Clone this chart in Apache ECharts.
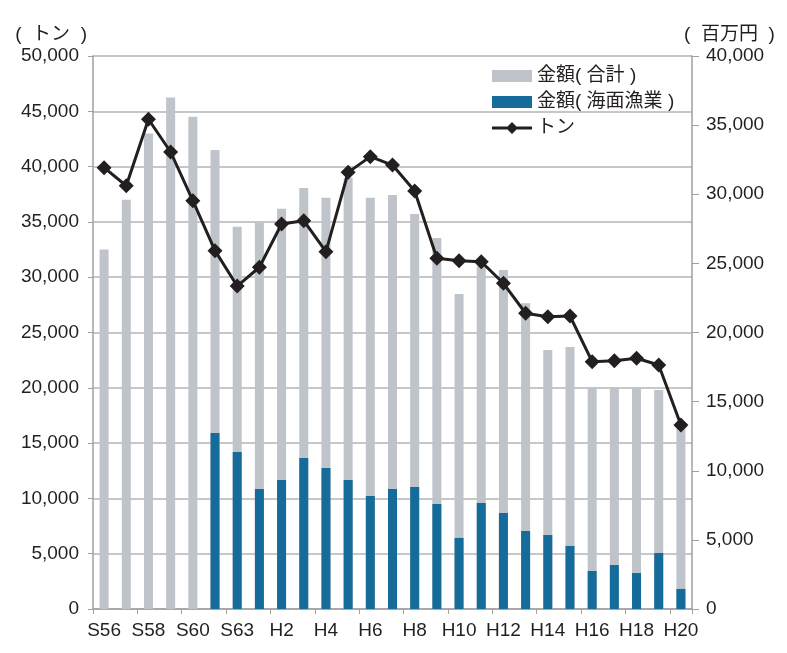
<!DOCTYPE html>
<html>
<head>
<meta charset="utf-8">
<script src="https://cdn.jsdelivr.net/npm/echarts@6/dist/echarts.min.js"></script>
<style>
  html, body { margin: 0; padding: 0; background: #fff; }
  #chart { width: 787px; height: 653px; }
</style>
</head>
<body>
<div id="chart"></div>
<script>
// 年次（S61/S62 のどちらかは欠けている）
const years = ['S56', 'S57', 'S58', 'S59', 'S60', 'S62', 'S63',
  'H1', 'H2', 'H3', 'H4', 'H5', 'H6', 'H7', 'H8', 'H9', 'H10',
  'H11', 'H12', 'H13', 'H14', 'H15', 'H16', 'H17', 'H18', 'H19', 'H20'];

// 金額（合計）百万円
const amountTotal = [26000, 29600, 34400, 37000, 35600, 33200, 27650,
  27950, 28950, 30450, 29750, 31200, 29750, 29950, 28570, 26830, 22780,
  24800, 24520, 22110, 18730, 18950, 16030, 16030, 16030, 15840, 13200];

// 金額（海面漁業）百万円 — S61以前はデータなし
const amountSea = [null, null, null, null, null, 12730, 11360,
  8680, 9330, 10920, 10200, 9330, 8170, 8680, 8830, 7600, 5140,
  7670, 6940, 5640, 5350, 4560, 2750, 3180, 2600, 4050, 1450];

// 数量 トン
const tons = [39900, 38270, 44280, 41320, 36920, 32400, 29200,
  30900, 34810, 35110, 32310, 39480, 40900, 40140, 37790, 31710, 31490,
  31400, 29450, 26740, 26430, 26490, 22360, 22450, 22670, 22060, 16640];

const txt = '#231f20';
const font = '"Liberation Sans", "Noto Sans CJK JP", sans-serif';

// 凡例用：線＋ひし形
const lineDiamondIcon = 'path://M0,4.5 L15.5,4.5 L20,0 L24.5,4.5 L40,4.5 L40,7.5 L24.5,7.5 L20,12 L15.5,7.5 L0,7.5 Z';

let chart = echarts.init(document.getElementById('chart'));

let option = {
    animation: false,
    textStyle: { fontFamily: font, color: txt },
    grid: { left: 93, right: 95, top: 56, bottom: 44 },
    legend: {
        orient: 'vertical',
        left: 487,
        top: 61,
        itemWidth: 40,
        itemHeight: 12,
        itemGap: 6,
        textStyle: { fontSize: 19, color: txt, fontFamily: font, lineHeight: 20 },
        data: [
            { name: '金額( 合計 )', icon: 'rect' },
            { name: '金額( 海面漁業 )', icon: 'rect' },
            { name: 'トン', icon: lineDiamondIcon }
        ]
    },
    xAxis: {
        type: 'category',
        data: years,
        axisLine: { lineStyle: { color: '#a0a0a0', width: 1.5 } },
        axisTick: { show: true, length: 5, lineStyle: { color: '#a0a0a0' } },
        axisLabel: { interval: 1, fontSize: 19, color: txt, margin: 12 }
    },
    yAxis: [
        {
            type: 'value',
            min: 0, max: 50000, interval: 5000,
            name: '(  トン  )',
            nameGap: 12,
            nameTextStyle: { fontSize: 19, color: txt, align: 'right', padding: [0, 6, 0, 0] },
            axisLine: { show: true, lineStyle: { color: '#a0a0a0', width: 1.5 } },
            axisTick: { show: true, length: 5, lineStyle: { color: '#a0a0a0' } },
            axisLabel: {
                fontSize: 19, color: txt, margin: 14,
                formatter: v => v.toLocaleString('en-US')
            },
            splitLine: { lineStyle: { color: '#b4b4b4', width: 1.5 } }
        },
        {
            type: 'value',
            min: 0, max: 40000, interval: 5000,
            name: '(  百万円  )',
            nameGap: 12,
            nameTextStyle: { fontSize: 19, color: txt, align: 'left', padding: [0, 0, 0, -8] },
            axisLine: { show: true, lineStyle: { color: '#a0a0a0', width: 1.5 } },
            axisTick: { show: true, length: 7, lineStyle: { color: '#a0a0a0' } },
            axisLabel: {
                fontSize: 19, color: txt, margin: 14,
                formatter: v => v.toLocaleString('en-US')
            },
            splitLine: { show: false }
        }
    ],
    series: [
        {
            name: '金額( 合計 )',
            type: 'bar',
            yAxisIndex: 1,
            data: amountTotal,
            barWidth: 9,
            itemStyle: { color: '#bfc3ca' }
        },
        {
            name: '金額( 海面漁業 )',
            type: 'bar',
            yAxisIndex: 1,
            data: amountSea,
            barWidth: 9,
            barGap: '-100%',
            itemStyle: { color: '#156b9a' }
        },
        {
            name: 'トン',
            type: 'line',
            yAxisIndex: 0,
            data: tons,
            symbol: 'diamond',
            symbolSize: 15,
            showAllSymbol: true,
            z: 5,
            lineStyle: { color: txt, width: 3 },
            itemStyle: { color: txt }
        }
    ]
};

chart.setOption(option);
</script>
</body>
</html>
